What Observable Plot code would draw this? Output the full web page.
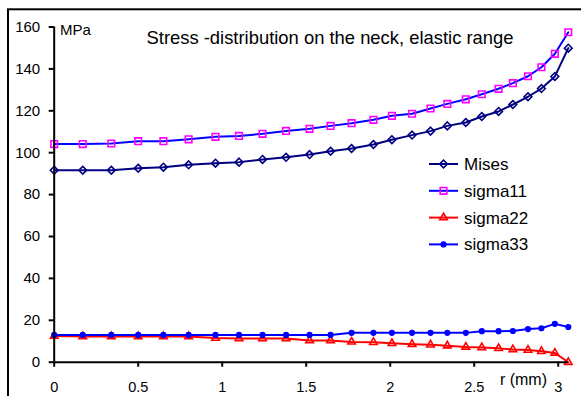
<!DOCTYPE html>
<html><head><meta charset="utf-8">
<script src="https://cdn.jsdelivr.net/npm/d3@7"></script>
<script src="https://cdn.jsdelivr.net/npm/@observablehq/plot@0.6"></script>
<style>
body{margin:0;background:#fff}
#chart svg{font-family:"Liberation Sans",Arial,sans-serif;display:block}
</style>
</head><body><div id="chart"></div>
<script>
// r (mm) positions along the neck
const r = [0, 0.17, 0.34, 0.50, 0.65, 0.80, 0.96, 1.10, 1.24, 1.38, 1.52, 1.645, 1.77, 1.90, 2.01, 2.13, 2.24, 2.34, 2.45, 2.545, 2.645, 2.73, 2.82, 2.90, 2.98, 3.06];
const mises = [91.6, 91.6, 91.6, 92.6, 93.1, 94.2, 95.0, 95.5, 96.8, 97.8, 99.1, 100.7, 102.0, 103.9, 106.2, 108.4, 110.3, 112.8, 114.4, 117.3, 119.7, 123.0, 126.7, 130.6, 136.4, 149.9];
const sigma11 = [104.1, 104.1, 104.4, 105.5, 105.5, 106.4, 107.6, 108.0, 109.0, 110.4, 111.4, 112.8, 114.1, 115.7, 117.6, 118.6, 121.1, 123.3, 125.5, 127.9, 130.5, 133.2, 136.5, 140.8, 147.2, 157.5];
const sigma22 = [12.5, 12.3, 12.3, 12.3, 12.3, 12.3, 11.5, 11.3, 11.3, 11.3, 10.4, 10.4, 9.7, 9.5, 9.0, 8.6, 8.3, 7.9, 7.3, 7.0, 6.6, 6.1, 5.8, 5.2, 4.4, 0];
const sigma33 = [13, 13, 13, 13, 13, 13, 13, 13, 13, 13, 13, 13, 14, 14, 14, 14, 14, 14, 14, 14.8, 14.8, 14.9, 15.8, 16.2, 18.3, 16.8];
const seriesNames = ["Mises", "sigma11", "sigma22", "sigma33"];
const xTicks = [0, 0.5, 1, 1.5, 2, 2.5, 3];
const yTicks = [0, 20, 40, 60, 80, 100, 120, 140, 160];
const titleText = "Stress -distribution on the neck, elastic range";
const yUnit = "MPa";
const xLabel = "r (mm)";

const values = {Mises: mises, sigma11: sigma11, sigma22: sigma22, sigma33: sigma33};
const rows = seriesNames.flatMap(s => r.map((x, i) => ({r: x, v: values[s][i], s})));

const look = {
  Mises:   {line: "#000080", mark: "#000080", symbol: "diamond2", plotSym: d3.symbolDiamond2, rr: 3.5, fill: "none"},
  sigma11: {line: "#0000ff", mark: "#ff00ff", symbol: "square2", plotSym: d3.symbolSquare2, rr: 4.2, fill: "none"},
  sigma22: {line: "#ff0000", mark: "#ff0000", symbol: "triangle2", plotSym: d3.symbolTriangle2, rr: 3.6, fill: "none"},
  sigma33: {line: "#0000ff", mark: "#0000ff", symbol: "circle", plotSym: d3.symbolCircle, rr: 2.3, fill: "#0000ff"}
};

const marks = [];
for (const s of seriesNames) {
  const data = rows.filter(d => d.s === s);
  const L = look[s];
  marks.push(Plot.line(data, {x: "r", y: "v", stroke: L.line, strokeWidth: 2}));
  marks.push(Plot.dot(data, {x: "r", y: "v", symbol: () => L.symbol, r: L.rr, stroke: L.mark, strokeWidth: 1.6, fill: L.fill}));
}

const plot = Plot.plot({
  width: 581, height: 396,
  marginLeft: 53.7, marginRight: 13.2, marginTop: 26.5, marginBottom: 34.3,
  x: {domain: [0, 3.06], label: null},
  y: {domain: [0, 160], label: null},
  symbol: {type: "identity"},
  style: {fontFamily: '"Liberation Sans", Arial, sans-serif', fontSize: "15px", color: "#000", background: "#fff"},
  marks: [
    Plot.axisX({ticks: xTicks, tickSize: 5, tickPadding: 15, strokeWidth: 2, fontSize: 14.5, label: null, tickFormat: d => String(d)}),
    Plot.axisY({ticks: yTicks, tickSize: 5, tickPadding: 9, strokeWidth: 2, fontSize: 15, label: null}),
    ...marks,
    Plot.ruleX([0], {stroke: "#000", strokeWidth: 2}),
    Plot.ruleY([0], {stroke: "#000", strokeWidth: 2})
  ]
});
document.getElementById("chart").appendChild(plot);

const svg = d3.select(plot);
// outer chart-area border
svg.append("rect").attr("x", 8).attr("y", 9.3).attr("width", 620).attr("height", 420)
  .attr("fill", "none").attr("stroke", "#000").attr("stroke-width", 2);
// title and unit
const ann = svg.append("g").attr("text-anchor", "start").attr("fill", "#000");
ann.append("text").attr("x", 146.5).attr("y", 44).attr("font-size", 18.4).text(titleText);
ann.append("text").attr("x", 60).attr("y", 35).attr("font-size", 15).text(yUnit);
ann.append("text").attr("x", 547).attr("y", 385).attr("text-anchor", "end").attr("font-size", 16).text(xLabel);

// legend
const lg = svg.append("g").attr("text-anchor", "start");
seriesNames.forEach((s, i) => {
  const L = look[s];
  const y = 164 + i * 26.8;
  lg.append("line").attr("x1", 429).attr("x2", 458).attr("y1", y).attr("y2", y).attr("stroke", L.line).attr("stroke-width", 2);
  lg.append("path").attr("transform", `translate(443.5,${y})`)
    .attr("d", d3.symbol().type(L.plotSym).size(Math.PI * L.rr * L.rr)())
    .attr("fill", L.fill).attr("stroke", L.mark).attr("stroke-width", 1.6);
  lg.append("text").attr("x", 464).attr("y", y + 6).attr("font-size", 17).attr("fill", "#000").text(s);
});
</script>
</body></html>
